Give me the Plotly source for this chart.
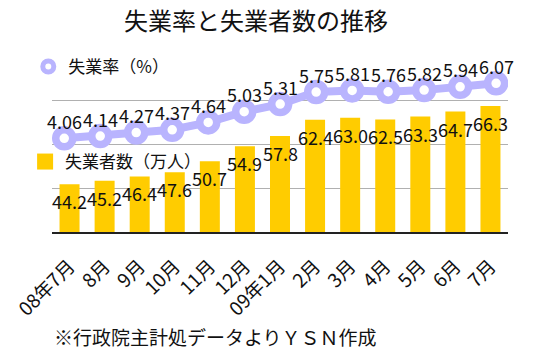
import plotly.graph_objects as go

months = ["08年7月", "8月", "9月", "10月", "11月", "12月", "09年1月",
          "2月", "3月", "4月", "5月", "6月", "7月"]
unemployed = [44.2, 45.2, 46.4, 47.6, 50.7, 54.9, 57.8,
              62.4, 63.0, 62.5, 63.3, 64.7, 66.3]
unemployed_labels = ["44.2", "45.2", "46.4", "47.6", "50.7", "54.9", "57.8",
                     "62.4", "63.0", "62.5", "63.3", "64.7", "66.3"]
rate = [4.06, 4.14, 4.27, 4.37, 4.64, 5.03, 5.31,
        5.75, 5.81, 5.76, 5.82, 5.94, 6.07]
rate_labels = ["4.06", "4.14", "4.27", "4.37", "4.64", "5.03", "5.31",
               "5.75", "5.81", "5.76", "5.82", "5.94", "6.07"]

title_text = "失業率と失業者数の推移"
rate_name = "失業率（%）"
unemp_name = "失業者数（万人）"
footnote = "※行政院主計処データよりＹＳＮ作成"

FONT = "Noto Sans CJK JP"
GOLD = "#ffcc00"
LAV = "#b9b4fe"

fig = go.Figure()

fig.add_trace(go.Bar(
    x=months, y=unemployed, width=0.57, marker=dict(color=GOLD, line=dict(width=0)),
    xaxis="x", yaxis="y", showlegend=False, hoverinfo="skip",
))
fig.add_trace(go.Scatter(
    x=months, y=rate, mode="lines+markers", xaxis="x2", yaxis="y2",
    line=dict(color=LAV, width=8),
    marker=dict(size=17, color="white", line=dict(color=LAV, width=7.5)),
    showlegend=False, hoverinfo="skip",
))
# legend-only proxies
fig.add_trace(go.Scatter(
    x=[None], y=[None], mode="markers", name=rate_name, legend="legend",
    marker=dict(size=11, color="white", line=dict(color=LAV, width=5)),
))
fig.add_trace(go.Scatter(
    x=[None], y=[None], mode="markers", name=unemp_name, legend="legend2",
    marker=dict(size=16, symbol="square", color=GOLD, line=dict(width=0)),
))

annotations = []
for m, v, t in zip(months, unemployed, unemployed_labels):
    annotations.append(dict(x=m, y=v, xref="x", yref="y", text=t, showarrow=False,
                            yshift=-17, font=dict(family=FONT, size=18, color="#111")))
for m, v, t in zip(months, rate, rate_labels):
    annotations.append(dict(x=m, y=v, xref="x2", yref="y2", text=t, showarrow=False,
                            yshift=17.5, font=dict(family=FONT, size=18, color="#111")))
annotations.append(dict(x=0.001, y=-0.595, xref="paper", yref="paper", text=footnote,
                        showarrow=False, xanchor="left", yanchor="middle",
                        font=dict(family=FONT, size=19, color="#111")))

fig.update_layout(
    width=538, height=349,
    margin=dict(l=31, r=30, t=57, b=117),
    paper_bgcolor="white", plot_bgcolor="white",
    font=dict(family=FONT, color="#111"),
    title=dict(text=title_text, x=0.476, xanchor="center", y=0.937, yanchor="middle",
               font=dict(family=FONT, size=24, color="#111")),
    xaxis=dict(type="category", categoryorder="array", categoryarray=months,
               range=[-0.5, 12.5], showgrid=False, showline=True, linecolor="#222",
               linewidth=1.5, ticks="", tickangle=-45, ticklabelstandoff=14,
               tickfont=dict(family=FONT, size=19, color="#111")),
    xaxis2=dict(type="category", categoryorder="array", categoryarray=months,
                range=[-0.34, 12.33], overlaying="x", visible=False),
    yaxis=dict(range=[30.74, 80.1], tick0=30.74, dtick=12.34, showgrid=True,
               gridcolor="#b0b0b0", gridwidth=1, showticklabels=False, zeroline=False,
               ticks=""),
    yaxis2=dict(range=[0.635, 7.03], overlaying="y", visible=False),
    legend=dict(x=-0.052, y=0.943, xanchor="left", yanchor="middle",
                bgcolor="rgba(0,0,0,0)", font=dict(family=FONT, size=17, color="#111")),
    legend2=dict(x=-0.059, y=0.4, xanchor="left", yanchor="middle",
                 bgcolor="rgba(0,0,0,0)", font=dict(family=FONT, size=17, color="#111")),
    annotations=annotations,
    bargap=0.43,
)

fig.write_html("out.html")
